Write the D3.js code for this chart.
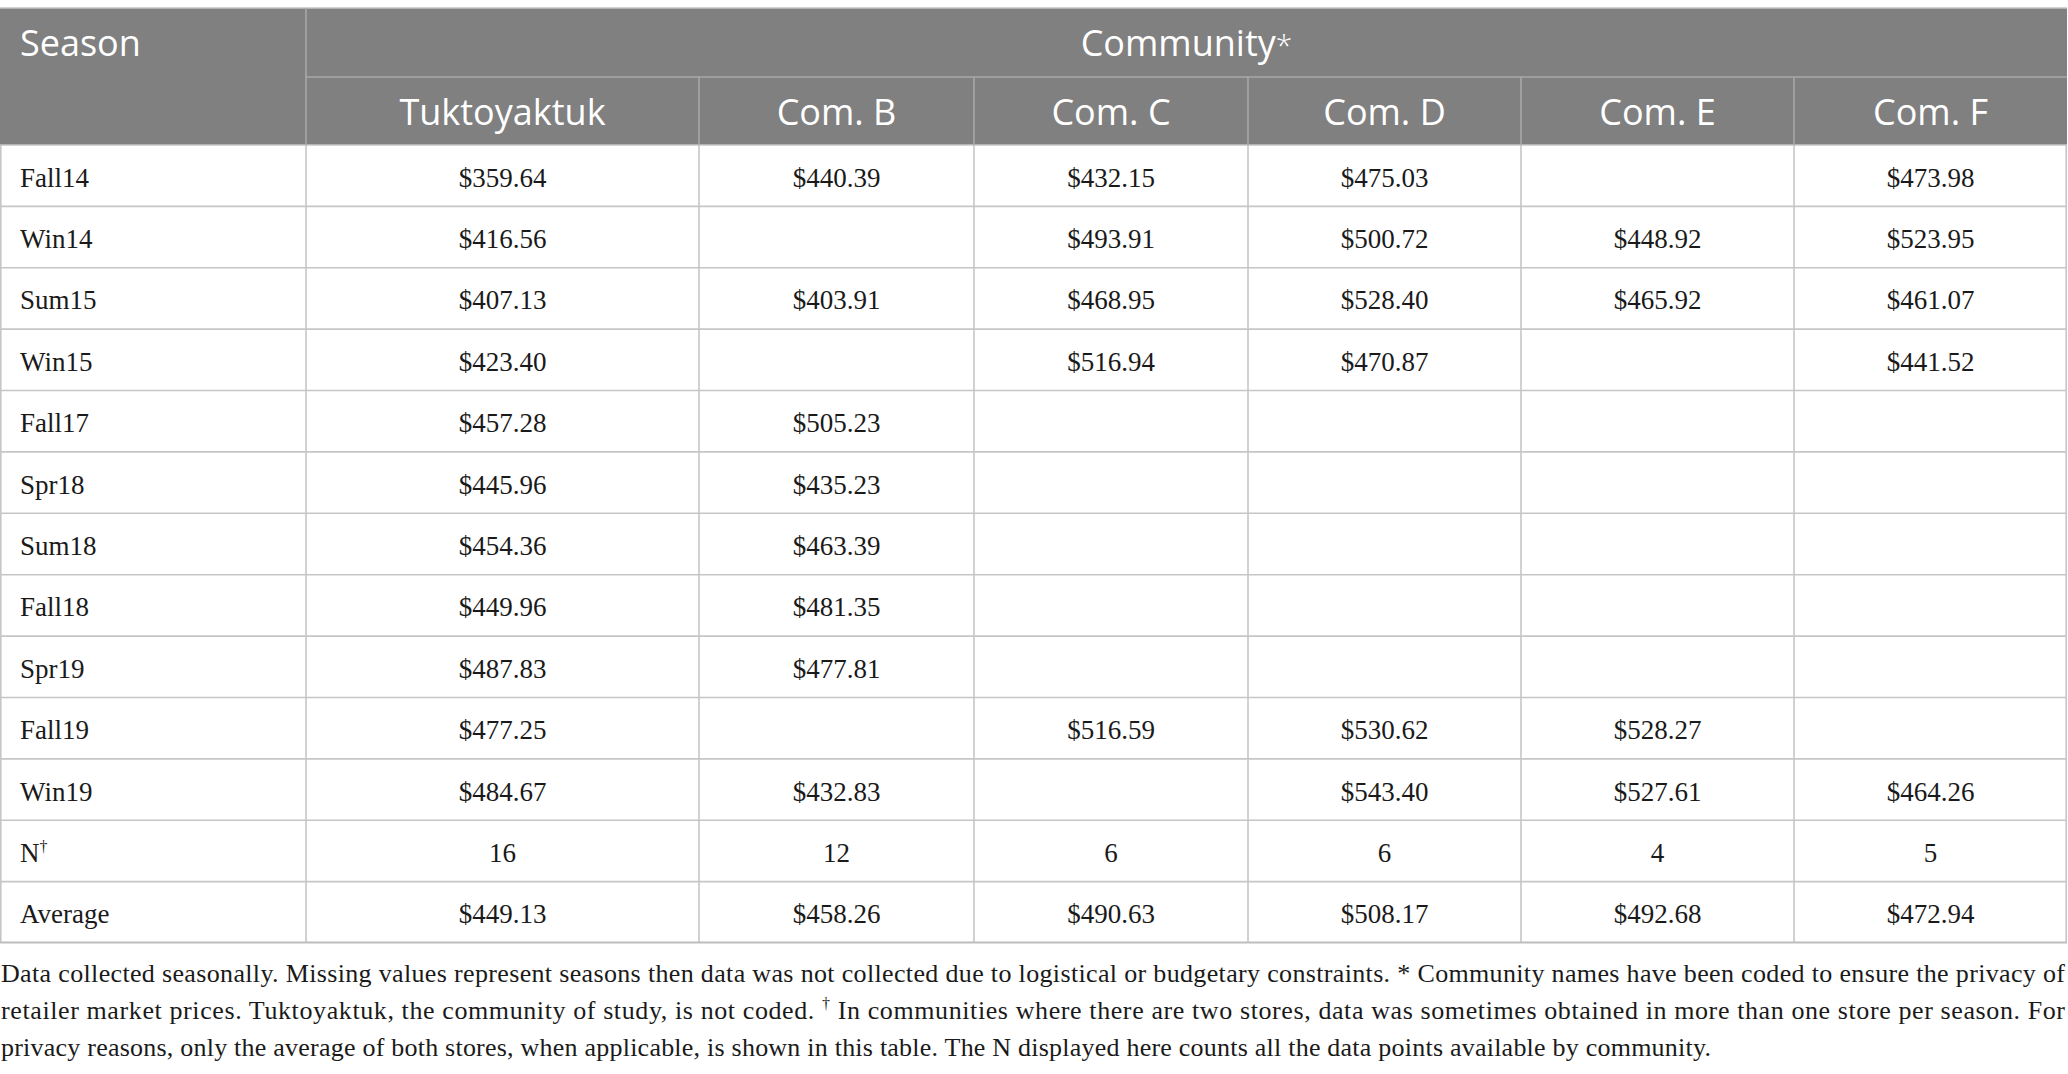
<!DOCTYPE html>
<html>
<head>
<meta charset="utf-8">
<script src="https://cdn.jsdelivr.net/npm/d3@7"></script>
<style>
  html, body { margin: 0; padding: 0; background: #ffffff; }
  svg { display: block; }
</style>
</head>
<body>
<div id="chart"></div>
<script>
// ---------------- DATA ----------------
const seasons = ["Fall14","Win14","Sum15","Win15","Fall17","Spr18","Sum18","Fall18","Spr19","Fall19","Win19"];
const communities = ["Tuktoyaktuk","Com. B","Com. C","Com. D","Com. E","Com. F"];
const tuktoyaktuk = [359.64,416.56,407.13,423.40,457.28,445.96,454.36,449.96,487.83,477.25,484.67];
const comB = [440.39,null,403.91,null,505.23,435.23,463.39,481.35,477.81,null,432.83];
const comC = [432.15,493.91,468.95,516.94,null,null,null,null,null,516.59,null];
const comD = [475.03,500.72,528.40,470.87,null,null,null,null,null,530.62,543.40];
const comE = [null,448.92,465.92,null,null,null,null,null,null,528.27,527.61];
const comF = [473.98,523.95,461.07,441.52,null,null,null,null,null,null,464.26];
const nCounts = [16,12,6,6,4,5];
const averages = [449.13,458.26,490.63,508.17,492.68,472.94];
const headerSeason = "Season";
const headerGroup = "Community";
const footnoteLines = [
  "Data collected seasonally. Missing values represent seasons then data was not collected due to logistical or budgetary constraints. * Community names have been coded to ensure the privacy of",
  ["retailer market prices. Tuktoyaktuk, the community of study, is not coded. ", "†", " In communities where there are two stores, data was sometimes obtained in more than one store per season. For"],
  "privacy reasons, only the average of both stores, when applicable, is shown in this table. The N displayed here counts all the data points available by community."
];

// ---------------- LAYOUT ----------------
const W = 2068, H = 1074;
const colWidths = [306, 393, 275, 274, 273, 273, 273];
const tableTop = 8, headerMid = 77, headerBottom = 145, tableBottom = 943, tableRight = 2067;
const headerBg = "#7f807f";
const headerLine = "#a8a8a8";
const gridLine = "#c6c6c6";
const textColor = "#1a1a1a";
const headFont = "'Open Sans', 'Noto Sans', sans-serif";
const bodyFont = "'Liberation Serif', 'DejaVu Serif', serif";

const seriesList = [tuktoyaktuk, comB, comC, comD, comE, comF];
const rowLabels = seasons.concat(["N", "Average"]);

// column edges
const colKeys = ["season"].concat(communities);
const edges = [0];
colWidths.forEach(w => edges.push(edges[edges.length - 1] + w));
const xLeft = d3.scaleOrdinal().domain(colKeys).range(edges.slice(0, -1));
const xWidth = d3.scaleOrdinal().domain(colKeys).range(colWidths);
const xCenter = k => xLeft(k) + xWidth(k) / 2;

const y = d3.scaleBand().domain(rowLabels).range([headerBottom, tableBottom]).padding(0);

const svg = d3.select("#chart").append("svg")
  .attr("width", W).attr("height", H)
  .attr("viewBox", `0 0 ${W} ${H}`);

// header background
svg.append("rect")
  .attr("x", 0).attr("y", tableTop)
  .attr("width", tableRight).attr("height", headerBottom - tableTop)
  .attr("fill", headerBg);

// body grid
const grid = svg.append("g").attr("stroke", gridLine).attr("stroke-width", 1.6).attr("fill", "none");
rowLabels.forEach((r, i) => {
  if (i === 0) return;
  grid.append("line")
    .attr("x1", 0).attr("x2", tableRight)
    .attr("y1", y(r)).attr("y2", y(r));
});
edges.forEach((e, i) => {
  const xx = i === 0 ? 0.8 : (i === edges.length - 1 ? tableRight - 0.8 : e);
  grid.append("line")
    .attr("x1", xx).attr("x2", xx)
    .attr("y1", headerBottom).attr("y2", tableBottom);
});
// bottom border
svg.append("line")
  .attr("x1", 0).attr("x2", tableRight)
  .attr("y1", tableBottom - 0.5).attr("y2", tableBottom - 0.5)
  .attr("stroke", "#bdbdbd").attr("stroke-width", 2.2);
// top border
svg.append("line")
  .attr("x1", 0).attr("x2", tableRight)
  .attr("y1", tableTop).attr("y2", tableTop)
  .attr("stroke", "#c4c4c4").attr("stroke-width", 1.5);
// header bottom line
svg.append("line")
  .attr("x1", 0).attr("x2", tableRight)
  .attr("y1", headerBottom).attr("y2", headerBottom)
  .attr("stroke", gridLine).attr("stroke-width", 1.6);

// header lines
const hl = svg.append("g").attr("stroke", headerLine).attr("stroke-width", 1.6);
hl.append("line")
  .attr("x1", xLeft(communities[0])).attr("x2", tableRight)
  .attr("y1", headerMid).attr("y2", headerMid);
hl.append("line")
  .attr("x1", xLeft(communities[0])).attr("x2", xLeft(communities[0]))
  .attr("y1", tableTop).attr("y2", headerBottom);
communities.slice(1).forEach(c => {
  hl.append("line")
    .attr("x1", xLeft(c)).attr("x2", xLeft(c))
    .attr("y1", headerMid).attr("y2", headerBottom);
});

// header texts
svg.append("text")
  .attr("x", 20).attr("y", 56)
  .attr("font-family", headFont).attr("font-size", 36)
  .attr("fill", "#ffffff")
  .text(headerSeason);

const groupCenter = (xLeft(communities[0]) + tableRight) / 2;
const gt = svg.append("text")
  .attr("x", groupCenter).attr("y", 56)
  .attr("text-anchor", "middle")
  .attr("font-family", headFont).attr("font-size", 36)
  .attr("fill", "#ffffff");
gt.append("tspan").text(headerGroup);
gt.append("tspan").attr("font-size", 30).attr("font-weight", 300).text("*");

svg.append("g").selectAll("text")
  .data(communities)
  .join("text")
  .attr("x", d => xCenter(d)).attr("y", 125)
  .attr("text-anchor", "middle")
  .attr("font-family", headFont).attr("font-size", 36)
  .attr("fill", "#ffffff")
  .text(d => d);

// body texts
const fmt = v => "$" + d3.format(".2f")(v);
const body = svg.append("g")
  .attr("font-family", bodyFont).attr("font-size", 27).attr("fill", textColor);

rowLabels.forEach((r, i) => {
  const by = y(r) + y.bandwidth() / 2 + 11;
  const lt = body.append("text").attr("x", 20).attr("y", by);
  if (r === "N") {
    lt.append("tspan").text("N");
    lt.append("tspan").attr("font-size", 16).attr("dy", -10).text("†");
  } else {
    lt.text(r);
  }
  communities.forEach((c, j) => {
    let txt = null;
    if (i < seasons.length) {
      const v = seriesList[j][i];
      if (v != null) txt = fmt(v);
    } else if (r === "N") {
      txt = String(nCounts[j]);
    } else {
      txt = fmt(averages[j]);
    }
    if (txt) {
      body.append("text")
        .attr("x", xCenter(c)).attr("y", by)
        .attr("text-anchor", "middle")
        .text(txt);
    }
  });
});

// footnote
const fn = svg.append("g")
  .attr("font-family", bodyFont).attr("font-size", 26).attr("fill", textColor);
const fnBase = [982, 1019, 1056];
const fnLens = [2064, 2064, 1710];
footnoteLines.forEach((ln, i) => {
  const t = fn.append("text").attr("x", 1).attr("y", fnBase[i])
    .attr("textLength", fnLens[i]).attr("lengthAdjust", "spacing");
  if (Array.isArray(ln)) {
    t.append("tspan").text(ln[0]);
    t.append("tspan").attr("font-size", 16).attr("dy", -10).text(ln[1]);
    t.append("tspan").attr("dy", 10).text(ln[2]);
  } else {
    t.text(ln);
  }
});
</script>
</body>
</html>
